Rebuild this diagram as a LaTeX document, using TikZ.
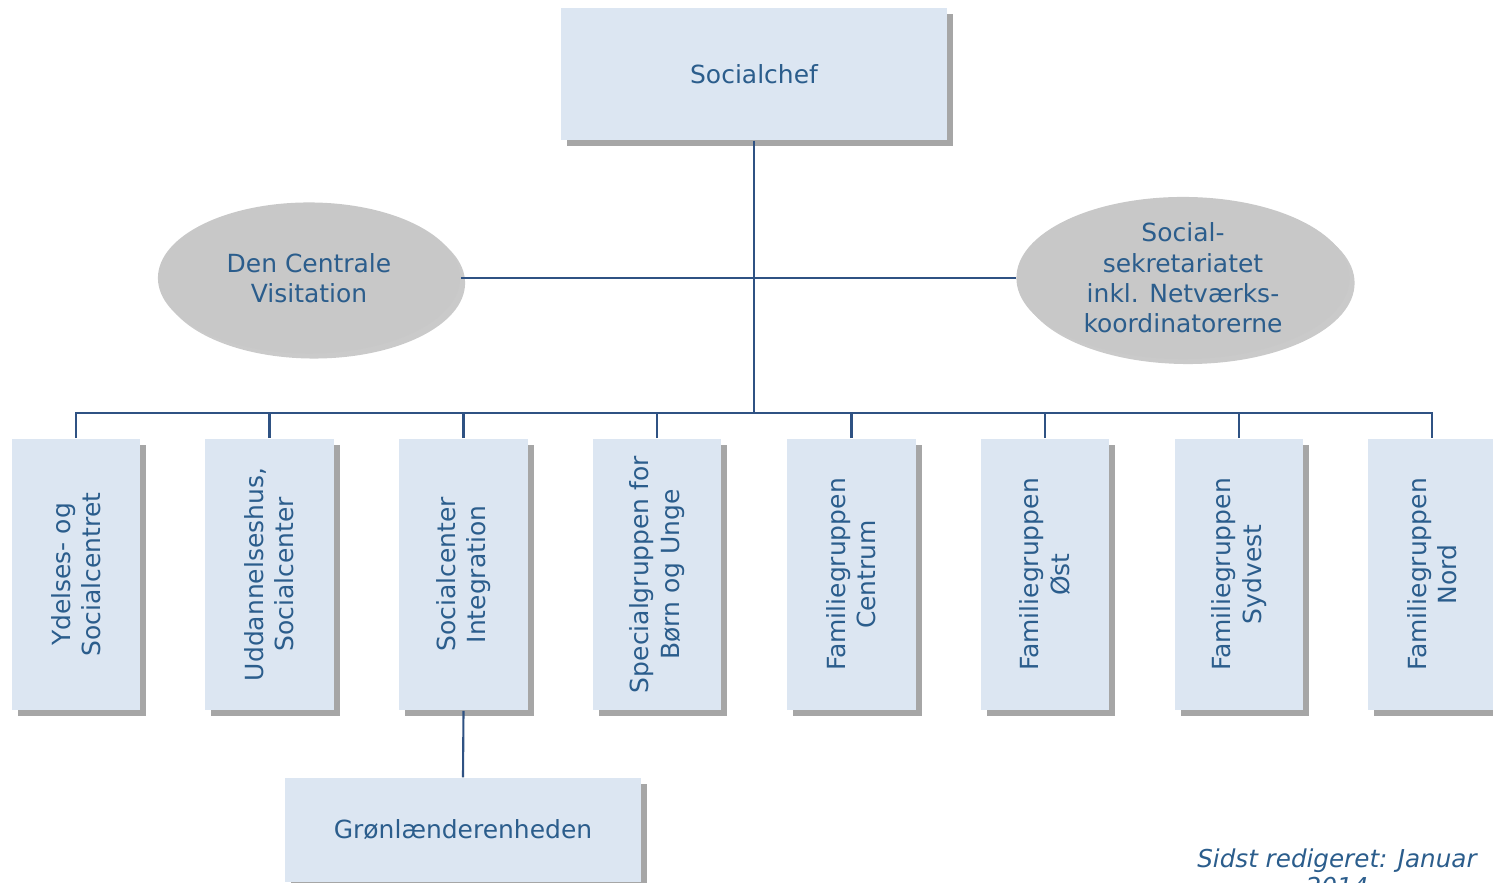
\documentclass[tikz,border=0pt]{standalone}
\usepackage{fontspec}
\setmainfont{DejaVu Sans}
\usepackage{tikz}
\usetikzlibrary{positioning,shapes.geometric,shadows}

\definecolor{boxblue}{HTML}{DCE6F2}
\definecolor{txtblue}{HTML}{2B5D8C}
\definecolor{lineblue}{HTML}{2F5283}
\definecolor{ellgray}{HTML}{C8C8C8}
\definecolor{shadowgray}{HTML}{A6A6A6}

\begin{document}
\begin{tikzpicture}[x=0.01cm, y=-0.01cm]
        \tikzstyle{every node}=[text=txtblue, align=center, inner sep=0pt, font=\fontsize{7.1}{8.6}\selectfont]
        \tikzstyle{unit}=[rectangle, fill=boxblue, drop shadow={shadow xshift=0.06cm, shadow yshift=-0.06cm, fill=shadowgray, opacity=1}]
        \tikzstyle{staff}=[ellipse, fill=ellgray, drop shadow={shadow xshift=0.05cm, shadow yshift=-0.05cm, fill=shadowgray!60, opacity=1}]
        \tikzstyle{group}=[unit, rotate=90, minimum width=2.71cm, minimum height=1.28cm]
        \tikzstyle{conn}=[draw=lineblue, line width=0.6pt]

        \useasboundingbox (0,0) rectangle (1493,883);

        \node   (chef)   [unit, minimum width=3.86cm, minimum height=1.32cm] at (754,74) {Socialchef};

        \node   (visit)  [staff, minimum width=3.02cm, minimum height=1.51cm] at (309,278) {Den Centrale\\Visitation};
        \node   (sekr)   [staff, minimum width=3.33cm, minimum height=1.62cm] at (1183,278) {Social-\\sekretariatet\\inkl. Netværks-\\koordinatorerne};

        \coordinate (bus) at (755,413);

        \node   (b0)     [group] at (76,574.5)    {Ydelses- og\\Socialcentret};
        \node   (b1)     [group] at (269.5,574.5) {Uddannelseshus,\\Socialcenter};
        \node   (b2)     [group] at (463.5,574.5) {Socialcenter\\Integration};
        \node   (b3)     [group] at (657,574.5)   {Specialgruppen for\\Børn og Unge};
        \node   (b4)     [group] at (851.5,574.5) {Familiegruppen\\Centrum};
        \node   (b5)     [group] at (1045,574.5)  {Familiegruppen\\Øst};
        \node   (b6)     [group] at (1239,574.5)  {Familiegruppen\\Sydvest};
        \node   (b7)     [group] at (1432,574.5)  {Familiegruppen\\Nord};

        \node   (gron)   [unit, minimum width=3.55cm, minimum height=1.04cm] at (463,830) {Grønlænderenheden};

        \node   (edit)   [anchor=north, font=\fontsize{7}{8}\selectfont\itshape] at (1337,848) {Sidst redigeret: Januar\\2014};

        \draw[conn] (chef.south) -- (chef.south |- bus);
        \draw[conn] (visit.east) -- (sekr.west);
        \draw[conn] (b0.east) -- (b0.east |- bus) -- (b7.east |- bus) -- (b7.east);
        \draw[conn] (b1.east) -- (b1.east |- bus)
                    (b2.east) -- (b2.east |- bus)
                    (b3.east) -- (b3.east |- bus)
                    (b4.east) -- (b4.east |- bus)
                    (b5.east) -- (b5.east |- bus)
                    (b6.east) -- (b6.east |- bus);
        \draw[conn] (b2.west) -- (gron.north);

    \end{tikzpicture}
\end{document}
